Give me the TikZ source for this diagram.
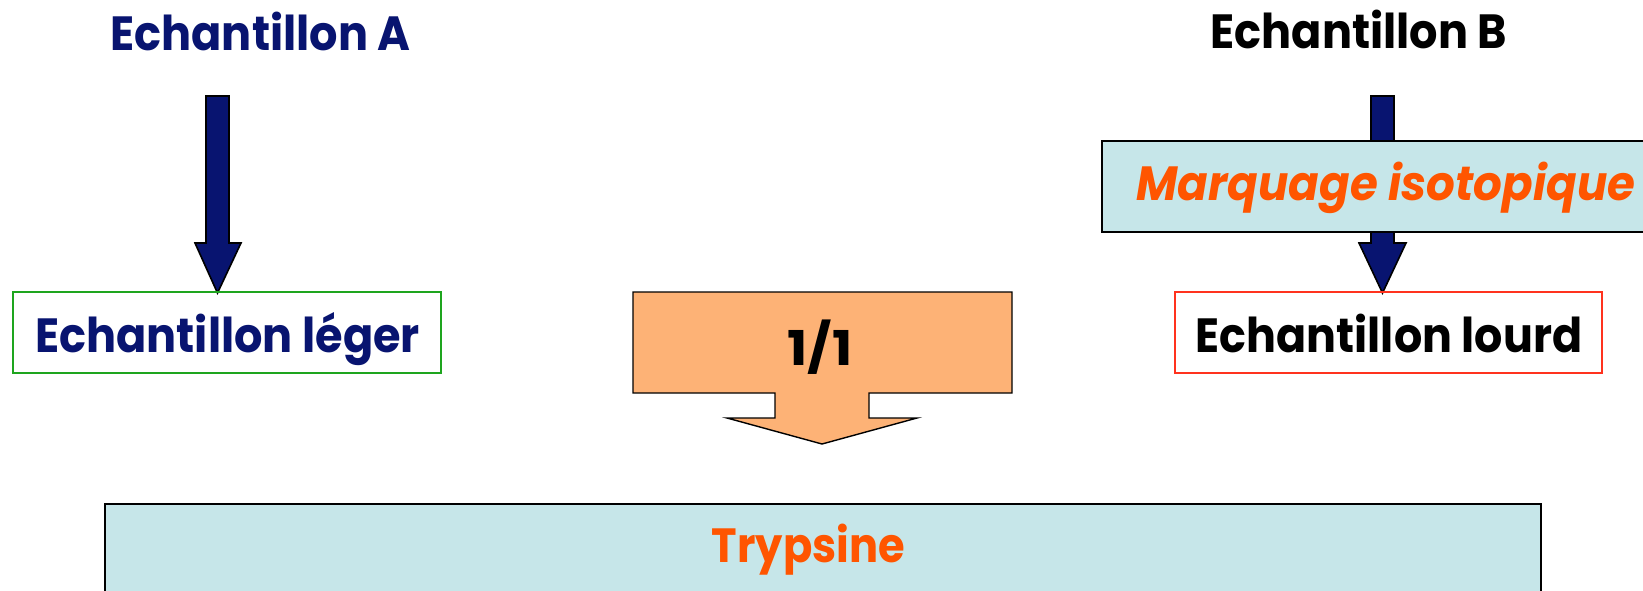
\documentclass[tikz,border=0pt]{standalone}
\usepackage{graphicx}
\usepackage{fontspec}
\setmainfont{Poppins}
\definecolor{navyfill}{RGB}{8,20,112}
\definecolor{paleblue}{RGB}{198,230,233}
\definecolor{labelorange}{RGB}{255,85,0}
\definecolor{peach}{RGB}{253,178,118}
\definecolor{greenline}{RGB}{30,165,30}
\definecolor{redline}{RGB}{255,50,30}
\newcommand{\squeeze}[2]{\scalebox{#1}[1]{#2}}
\tikzset{
  lbl/.style={anchor=base, inner sep=0pt, font=\bfseries\fontsize{24}{28}\selectfont},
  boxnode/.style={rectangle, inner sep=0pt, line width=0.7pt},
  blockarrow/.style={draw=black, line width=0.8pt, line join=miter},
}
\begin{document}
\begin{tikzpicture}[x=0.5pt, y=-0.5pt]
\useasboundingbox (0,0) rectangle (1643,590);
\clip (0,0) rectangle (1643,590);

% sample titles
\node[lbl, text=navyfill] (titleA) at (260.5,50) {\squeeze{0.93}{Echantillon A}};
\node[lbl, text=black] (titleB) at (1359,48) {\squeeze{0.93}{Echantillon B}};

% arrow of sample A down to the light sample
\draw[blockarrow, fill=navyfill]
  (206,96) -- (229,96) -- (229,243) -- (241,243) -- (217.5,293)
  -- (195,243) -- (206,243) -- cycle;

% arrow of sample B, passing behind the labelling box
\draw[blockarrow, fill=navyfill]
  (1371,96) -- (1394,96) -- (1394,243) -- (1406,243) -- (1382.5,293)
  -- (1359,243) -- (1371,243) -- cycle;

% light sample
\node[boxnode, draw=greenline, minimum width=214pt, minimum height=40.5pt] (leger) at (227,332.5) {};
\node[lbl, text=navyfill] (legerText) at (227.5,352) {\squeeze{0.93}{Echantillon léger}};

% isotopic labelling step
\node[boxnode, draw=black, fill=paleblue, line width=0.9pt, minimum width=279pt, minimum height=45.5pt] (marquage) at (1381,186.5) {};
\node[lbl, text=labelorange, font=\bfseries\itshape\fontsize{24}{28}\selectfont] (marquageText) at (1386,200) {\squeeze{0.94}{Marquage isotopique}};

% heavy sample
\node[boxnode, draw=redline, minimum width=213.5pt, minimum height=40.5pt] (lourd) at (1388.5,332.5) {};
\node[lbl, text=black] (lourdText) at (1389,352) {\squeeze{0.925}{Echantillon lourd}};

% 1/1 mixing block arrow
\draw[blockarrow, fill=peach, line width=0.7pt]
  (633,292) -- (1012,292) -- (1012,393) -- (869,393) -- (869,418)
  -- (917,418) -- (822,444) -- (727,418) -- (775,418) -- (775,393)
  -- (633,393) -- cycle;
\node[lbl, text=black] (ratio) at (820,365) {\squeeze{1.12}{1/1}};

% digestion step
\node[boxnode, draw=black, fill=paleblue, line width=1pt, minimum width=718pt, minimum height=68pt] (trypsine) at (823,572) {};
\node[lbl, text=labelorange] (trypsineText) at (808.5,562) {\squeeze{0.9}{Trypsine}};
\end{tikzpicture}
\end{document}
